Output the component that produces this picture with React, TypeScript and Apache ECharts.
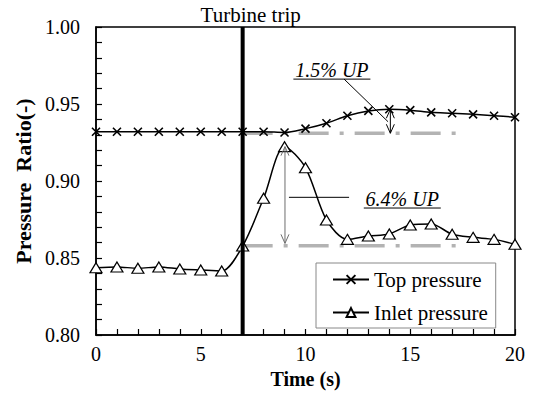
import React, { useEffect, useRef } from "react";
import * as echarts from "echarts";

const timeS = [0, 1, 2, 3, 4, 5, 6, 7, 8, 9, 10, 11, 12, 13, 14, 15, 16, 17, 18, 19, 20];
const topPressure = [0.932, 0.932, 0.932, 0.932, 0.932, 0.932, 0.932, 0.932, 0.932, 0.9315, 0.934, 0.9375, 0.9424, 0.9455, 0.9466, 0.946, 0.9446, 0.944, 0.9433, 0.9424, 0.9414];
const inletPressure = [0.8437, 0.8442, 0.8433, 0.8442, 0.8429, 0.8422, 0.8416, 0.8578, 0.8888, 0.9223, 0.9086, 0.8747, 0.8621, 0.8643, 0.8656, 0.8714, 0.8721, 0.8654, 0.8634, 0.8621, 0.8589];

const tripTime = 7;
const tripLine = [[tripTime, 0.8], [tripTime, 1.0]];
const tripLabel = "Turbine trip";
const refTop = [[7, 0.931], [17.4, 0.931]];
const refInlet = [[7, 0.858], [17.4, 0.858]];

// arrows: [x, yLow, yHigh]
const arrows = [[14.05, 0.931, 0.9466], [9.02, 0.8595, 0.9223]];
const arrowColors = ["#000000", "#6e6e6e"];

// callouts: [labelX, labelY, leaderX1, leaderY1, leaderX2, leaderY2]
const callouts = [
  [11.26, 0.972, 11.84, 0.9662, 13.94, 0.9385],
  [14.62, 0.8883, 9.21, 0.8894, 12.08, 0.8894],
];
const calloutTexts = ["1.5% UP", "6.4% UP"];

const SERIF = "'Liberation Serif', 'Times New Roman', serif";

export default function App() {
  const ref = useRef<HTMLDivElement>(null);
  useEffect(() => {
    if (!ref.current) return;
    const chart = echarts.init(ref.current, null, { renderer: "svg" });
    const option: any = {
      animation: false,
      backgroundColor: "#ffffff",
      textStyle: { fontFamily: SERIF },
      grid: {
        left: 96, right: 19, top: 27, bottom: 61,
        show: true, borderColor: "#000", borderWidth: 1.5, backgroundColor: "transparent",
      },
      legend: {
        left: 316, top: 263, orient: "vertical",
        data: ["Top pressure", "Inlet pressure"],
        borderColor: "#888", borderWidth: 1,
        padding: [6, 8, 5, 16], itemGap: 12,
        itemWidth: 36, itemHeight: 11,
        textStyle: { fontFamily: SERIF, fontSize: 21, color: "#000" },
        backgroundColor: "#fff",
      },
      xAxis: {
        type: "value", min: 0, max: 20, interval: 5,
        name: "Time (s)", nameLocation: "middle", nameGap: 32,
        nameTextStyle: { fontFamily: SERIF, fontSize: 20, fontWeight: "bold", color: "#000" },
        axisLine: { lineStyle: { color: "#000", width: 1.5 } },
        axisTick: { inside: true, length: 6, lineStyle: { color: "#000", width: 1.2 } },
        minorTick: { show: true, splitNumber: 5, length: 6, lineStyle: { color: "#000", width: 1.2 } },
        splitLine: { show: false },
        axisLabel: { fontFamily: SERIF, fontSize: 20, color: "#000", margin: 9 },
      },
      yAxis: {
        type: "value", min: 0.8, max: 1.0, interval: 0.05,
        name: "Pressure  Ratio(-)", nameLocation: "middle", nameGap: 62,
        nameTextStyle: { fontFamily: SERIF, fontSize: 22, fontWeight: "bold", color: "#000" },
        axisLine: { lineStyle: { color: "#000", width: 1.5 } },
        axisTick: { inside: true, length: 6, lineStyle: { color: "#000", width: 1.2 } },
        minorTick: { show: true, splitNumber: 5, length: 6, lineStyle: { color: "#000", width: 1.2 } },
        splitLine: { show: false },
        axisLabel: {
          fontFamily: SERIF, fontSize: 20, color: "#000", margin: 16,
          formatter: (v: number) => v.toFixed(2),
        },
      },
      series: [
        {
          name: "refTop", type: "line", data: refTop, symbol: "none", z: 1,
          lineStyle: { color: "#b3b3b3", width: 3.5, type: [30, 11, 4, 11] },
          silent: true,
        },
        {
          name: "refInlet", type: "line", data: refInlet, symbol: "none", z: 1,
          lineStyle: { color: "#b3b3b3", width: 3.5, type: [30, 11, 4, 11] },
          silent: true,
        },
        {
          name: "Top pressure", type: "line", smooth: 0.3, z: 3,
          data: timeS.map((t, i) => [t, topPressure[i]]),
          symbol: "path://M0,0L10,10M0,10L10,0", symbolSize: 8,
          lineStyle: { color: "#000", width: 1.5 },
          itemStyle: { color: "none", borderColor: "#000", borderWidth: 1.6 },
        },
        {
          name: "Inlet pressure", type: "line", smooth: 0.3, z: 3,
          data: timeS.map((t, i) => [t, inletPressure[i]]),
          symbol: "triangle", symbolSize: [12, 10],
          lineStyle: { color: "#000", width: 1.5 },
          itemStyle: { color: "#fff", borderColor: "#000", borderWidth: 1.2 },
        },
        {
          name: "trip", type: "line", data: tripLine,
          symbol: "none", z: 4,
          lineStyle: { color: "#000", width: 4 },
          silent: true,
          markPoint: {
            symbol: "rect", symbolSize: 0, silent: true,
            data: [{ coord: tripLine[1] }],
            label: {
              show: true, formatter: tripLabel, position: "top", distance: 2, offset: [8, 0],
              fontFamily: SERIF, fontSize: 21, color: "#000",
            },
          },
        },
        {
          name: "arrows", type: "custom", z: 5,
          data: arrows,
          encode: { x: 0, y: [1, 2] },
          renderItem: (params: any, api: any) => {
            const x = api.value(0);
            const pA = api.coord([x, api.value(1)]);
            const pB = api.coord([x, api.value(2)]);
            const px = pA[0];
            const top = Math.min(pA[1], pB[1]);
            const bot = Math.max(pA[1], pB[1]);
            const color = arrowColors[params.dataIndex];
            const h = 4, l = 9;
            const st = { stroke: color, fill: "none", lineWidth: 1 };
            return {
              type: "group",
              children: [
                { type: "line", shape: { x1: px, y1: top, x2: px, y2: bot }, style: st },
                { type: "polyline", shape: { points: [[px - h, top + l], [px, top], [px + h, top + l]] }, style: st },
                { type: "polyline", shape: { points: [[px - h, bot - l], [px, bot], [px + h, bot - l]] }, style: st },
              ],
            };
          },
          silent: true,
        },
        {
          name: "callouts", type: "custom", z: 5,
          data: callouts,
          encode: { x: [0, 2, 4], y: [1, 3, 5] },
          renderItem: (params: any, api: any) => {
            const c = api.coord([api.value(0), api.value(1)]);
            const a = api.coord([api.value(2), api.value(3)]);
            const b = api.coord([api.value(4), api.value(5)]);
            const hw = 38.5;
            return {
              type: "group",
              children: [
                {
                  type: "text",
                  style: {
                    x: c[0], y: c[1], text: calloutTexts[params.dataIndex],
                    fontFamily: SERIF, fontStyle: "italic", fontSize: 20, fill: "#000",
                    align: "center", verticalAlign: "middle",
                  },
                },
                { type: "line", shape: { x1: c[0] - hw, y1: c[1] + 9, x2: c[0] + hw, y2: c[1] + 9 }, style: { stroke: "#000", lineWidth: 1 } },
                { type: "line", shape: { x1: a[0], y1: a[1], x2: b[0], y2: b[1] }, style: { stroke: "#000", lineWidth: 1 } },
              ],
            };
          },
          silent: true,
        },
      ],
    };
    chart.setOption(option);
    return () => chart.dispose();
  }, []);
  return <div ref={ref} style={{ position: "fixed", left: 0, top: 0, width: 534, height: 396 }} />;
}
